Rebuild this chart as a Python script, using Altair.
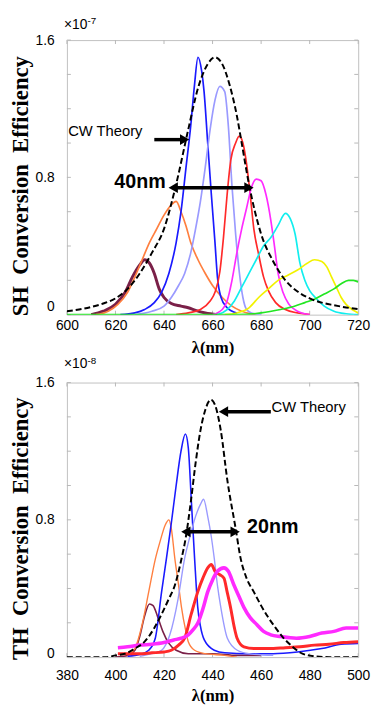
import altair as alt
import pandas as pd

# ---------------- SH panel (efficiency x 1e-7) ----------------
sh_names = ["1 maroon", "2 orange", "3 blue", "4 lightblue", "5 red", "6 magenta", "7 cyan", "8 yellow", "9 green"]
sh_colors = ["#7a2048", "#ff7f3f", "#1a1aff", "#9a9aff", "#ff2a2a", "#ff2aff", "#11eeee", "#f2f200", "#22e622"]
sh_widths = [3.0, 1.7, 1.7, 1.7, 1.7, 1.7, 1.7, 1.7, 1.7]

sh_maroon_wl = [610, 615, 620, 624, 627, 630, 632, 634, 636, 638, 640, 643, 647, 650, 653, 657, 662]
sh_maroon_eff = [0, 0.02, 0.06, 0.13, 0.22, 0.29, 0.32, 0.30, 0.24, 0.15, 0.10, 0.065, 0.05, 0.04, 0.025, 0.01, 0]
sh_orange_wl = [612, 617, 621, 625, 628, 631, 634, 637, 640, 643, 645, 647, 649, 651, 654, 657, 660, 664, 668, 672, 678]
sh_orange_eff = [0, 0.02, 0.06, 0.13, 0.22, 0.32, 0.42, 0.50, 0.58, 0.64, 0.66, 0.60, 0.52, 0.42, 0.32, 0.24, 0.17, 0.10, 0.05, 0.02, 0]
sh_blue_wl = [622, 628, 632, 636, 639, 642, 645, 647, 649, 651, 652.5, 654, 655.5, 656.5, 658, 659.5, 661, 662, 663.5, 666, 670]
sh_blue_eff = [0, 0.01, 0.03, 0.07, 0.13, 0.24, 0.42, 0.6, 0.85, 1.1, 1.33, 1.5, 1.42, 1.3, 1.0, 0.7, 0.42, 0.22, 0.1, 0.04, 0.01]
sh_lblue_wl = [628, 635, 640, 643, 646, 648.5, 651, 653, 655, 657, 659, 661, 663, 665, 666.5, 668, 669.5, 671, 672.5, 674, 676, 680]
sh_lblue_eff = [0, 0.02, 0.05, 0.1, 0.17, 0.24, 0.36, 0.5, 0.66, 0.86, 1.08, 1.25, 1.33, 1.3, 1.1, 0.75, 0.47, 0.25, 0.1, 0.03, 0.01, 0]
sh_red_wl = [645, 650, 655, 659, 661, 663, 664.5, 666, 667.5, 669.5, 671, 672.5, 674, 675.5, 677, 679, 681, 683, 686, 690, 695, 700]
sh_red_eff = [0, 0.01, 0.03, 0.08, 0.13, 0.25, 0.45, 0.7, 0.9, 1.0, 1.04, 1.0, 0.88, 0.7, 0.5, 0.35, 0.22, 0.14, 0.07, 0.03, 0.01, 0]
sh_mag_wl = [660, 664, 666, 668, 670, 672, 674, 676, 678, 680, 682, 684, 685.5, 687, 689, 691.5, 695, 700]
sh_mag_eff = [0, 0.03, 0.08, 0.2, 0.36, 0.5, 0.62, 0.74, 0.79, 0.78, 0.7, 0.55, 0.4, 0.24, 0.13, 0.06, 0.02, 0]
sh_cyan_wl = [662, 666, 669, 672, 675, 678, 681, 684, 687, 690, 692, 694, 696, 698, 700, 703, 706, 710, 715, 720]
sh_cyan_eff = [0, 0.03, 0.08, 0.16, 0.24, 0.32, 0.4, 0.45, 0.52, 0.59, 0.56, 0.47, 0.3, 0.2, 0.14, 0.09, 0.05, 0.02, 0.005, 0]
sh_yellow_wl = [665, 670, 675, 679, 683, 687, 691, 695, 699, 702, 705, 707, 709, 711, 713, 715, 717.5, 720]
sh_yellow_eff = [0, 0.01, 0.04, 0.1, 0.15, 0.2, 0.23, 0.26, 0.3, 0.32, 0.31, 0.28, 0.22, 0.16, 0.1, 0.06, 0.03, 0.01]
sh_green_wl = [600, 640, 670, 680, 688, 694, 698, 702, 706, 710, 713, 716, 718, 720]
sh_green_eff = [0, 0, 0, 0.01, 0.03, 0.05, 0.07, 0.09, 0.12, 0.15, 0.18, 0.2, 0.2, 0.19]

sh_cw_wl = [600, 605, 610, 615, 620, 625, 630, 635, 640, 645, 650, 654, 658, 661, 664, 667, 670, 672, 675,
            680, 685, 690, 695, 700, 705, 710, 715, 720]
sh_cw_eff = [0.02, 0.03, 0.045, 0.065, 0.095, 0.15, 0.24, 0.36, 0.5, 0.76, 1.08, 1.32, 1.46, 1.5, 1.46, 1.34,
             1.16, 1.0, 0.76, 0.47, 0.31, 0.2, 0.135, 0.095, 0.07, 0.055, 0.042, 0.032]

sh_xticks = [600, 620, 640, 660, 680, 700, 720]
sh_yticks = [0, 0.2, 0.4, 0.6, 0.8, 1.0, 1.2, 1.4, 1.6]

# annotations
sh_exp = ["×10", "-7", 1.69]
sh_cw_label = ["CW Theory", 600.5, 1.07]
sh_cw_arrow = [636.0, 648.5, 1.02]          # from, to(head), level
sh_fwhm_label = ["40nm", 619.5, 0.77]
sh_fwhm_arrow = [643.8, 675.0, 0.74]

# ---------------- TH panel (efficiency x 1e-8) ----------------
th_names = ["1 maroon", "2 orange", "3 blue", "4 lightblue", "5 red", "6 magenta"]
th_colors = ["#7a1010", "#ff8a4a", "#1010ff", "#8a8aff", "#ff1010", "#ff10ff"]
th_widths = [1.6, 1.4, 1.6, 1.4, 3.0, 3.6]

th_maroon_wl = [400, 405, 408, 410, 412, 414, 415.5, 417.5, 419.5, 422, 425, 430, 440, 450, 460]
th_maroon_eff = [0, 0.01, 0.04, 0.12, 0.24, 0.31, 0.30, 0.23, 0.15, 0.08, 0.04, 0.02, 0.02, 0.01, 0.01]
th_orange_wl = [405, 408, 411, 413.7, 416.4, 418.5, 420.5, 422, 423, 424.5, 426, 427.2, 429, 430, 432.6, 437, 445, 450]
th_orange_eff = [0.01, 0.05, 0.19, 0.38, 0.57, 0.68, 0.77, 0.8, 0.75, 0.57, 0.42, 0.29, 0.15, 0.09, 0.04, 0.02, 0.01, 0]
th_blue_wl = [405, 410, 413.7, 416.4, 419, 421, 423, 425, 427, 428.8, 430, 431.3, 432.6, 433.9, 435, 436.6, 440.7,
              445, 455, 465, 475, 485, 493, 500]
th_blue_eff = [0.005, 0.015, 0.04, 0.11, 0.38, 0.575, 0.78, 1.0, 1.2, 1.3, 1.22, 0.9, 0.575, 0.29, 0.18, 0.1, 0.04,
               0.025, 0.02, 0.02, 0.03, 0.05, 0.075, 0.08]
th_lblue_wl = [410, 415, 419, 422.4, 425.8, 428.5, 431, 433, 435, 436.3, 438, 439.5, 440.7, 442, 443.4, 446.1, 450.2,
               455, 465]
th_lblue_eff = [0.005, 0.02, 0.04, 0.13, 0.34, 0.575, 0.72, 0.82, 0.89, 0.92, 0.82, 0.7, 0.575, 0.42, 0.29, 0.11,
                0.04, 0.02, 0.01]
th_red_wl = [401, 405, 410, 415, 420, 423, 426, 428.5, 431.2, 433.9, 436, 438, 439.5, 441, 443, 444.7, 446, 447.4,
             449, 450.1, 452.9, 457, 463, 470, 476, 482, 488, 494, 500]
th_red_eff = [0.02, 0.02, 0.02, 0.025, 0.03, 0.04, 0.07, 0.11, 0.25, 0.38, 0.46, 0.52, 0.54, 0.5, 0.48, 0.46, 0.38,
              0.29, 0.17, 0.11, 0.06, 0.05, 0.05, 0.055, 0.06, 0.07, 0.075, 0.085, 0.09]
th_mag_wl = [401, 405, 410, 415, 420, 424, 427, 430, 432, 434, 436, 438, 440, 442, 444.7, 446.5, 448.8, 451, 452.9,
             455.5, 458.2, 461, 464, 468, 474.5, 480, 485, 490, 495, 500]
th_mag_eff = [0.055, 0.06, 0.07, 0.075, 0.085, 0.1, 0.11, 0.13, 0.16, 0.2, 0.28, 0.38, 0.45, 0.5, 0.52, 0.5, 0.42,
              0.35, 0.29, 0.23, 0.19, 0.15, 0.13, 0.12, 0.11, 0.12, 0.14, 0.15, 0.17, 0.17]

th_cw_wl = [380, 390, 396, 400, 404, 408, 412, 416, 419, 422, 424.5, 427, 429, 431, 433, 435, 437, 439.3, 441,
            443.4, 446.1, 449.5, 451.5, 454, 457, 460, 463, 466, 469, 473, 477, 482, 488, 500]
th_cw_eff = [0, 0, 0, 0.01, 0.02, 0.05, 0.09, 0.17, 0.25, 0.34, 0.42, 0.56, 0.7, 0.9, 1.13, 1.32, 1.44, 1.5, 1.47,
             1.32, 1.03, 0.75, 0.58, 0.46, 0.38, 0.3, 0.23, 0.17, 0.115, 0.06, 0.02, 0.005, 0, 0]

th_xticks = [380, 400, 420, 440, 460, 480, 500]
th_yticks = [0, 0.2, 0.4, 0.6, 0.8, 1.0, 1.2, 1.4, 1.6]

th_exp = ["×10", "-8", 1.705]
th_cw_label = ["CW Theory", 464.3, 1.455]
th_cw_arrow = [464.0, 444.5, 1.43]
th_fwhm_label = ["20nm", 454.2, 0.76]
th_fwhm_arrow = [429.0, 449.3, 0.73]

W, H = 296, 279
SANS = "Liberation Sans"
SERIF = "Liberation Serif"


def series_frame(names, widths, wls, effs):
    rows = []
    for n, w, xs, ys in zip(names, widths, wls, effs):
        for a, b in zip(xs, ys):
            rows.append({"series": n, "sw": w, "wl": a, "eff": b})
    return pd.DataFrame(rows)


def panel(names, colors, widths, wls, effs, cw_wl, cw_eff, xdom, xticks, yticks, ytitle, expo_parts,
          cw_label, cw_arrow, fwhm_label, fwhm_arrow, label_pad, xtitle_y, zero_shift):
    xs = alt.Scale(domain=xdom, nice=False, zero=False)
    ys = alt.Scale(domain=[0, 1.6], nice=False)
    xaxis = alt.Axis(values=xticks, format="d", labelFont=SANS, labelFontSize=14, labelColor="black",
                     labelFlush=False, labelOverlap=False, labelPadding=label_pad, ticks=False, tickSize=0,
                     domain=False, grid=False, title="λ(nm)", titleFont=SERIF, titleFontSize=17,
                     titleFontWeight="bold", titleColor="black", titleY=xtitle_y, titleBaseline="middle")
    yaxis = alt.Axis(values=yticks,
                     labelExpr="datum.value == 0 ? '0' : (abs(datum.value - 0.8) < 1e-6 ? '0.8' : "
                               "(abs(datum.value - 1.6) < 1e-6 ? '1.6' : ''))",
                     labelOffset={"condition": {"test": "datum.value == 0", "value": zero_shift}, "value": 0},
                     labelFont=SANS, labelFontSize=14, labelColor="black", labelPadding=13, ticks=False,
                     tickSize=0, domain=False, grid=False, title=ytitle, titleFont=SERIF, titleFontSize=23,
                     titleFontWeight="bold", titleColor="black", titleX=-47, titleY=148,
                     titleAlign="center", titleBaseline="middle", labelOverlap=False)
    X = alt.X("wl:Q", scale=xs, axis=xaxis)
    Y = alt.Y("eff:Q", scale=ys, axis=yaxis)

    df = series_frame(names, widths, wls, effs)
    lines = alt.Chart(df).mark_line(interpolate="monotone", clip=True).encode(
        x=X, y=Y,
        color=alt.Color("series:N", scale=alt.Scale(domain=names, range=colors), legend=None),
        strokeWidth=alt.StrokeWidth("sw:Q", scale=None),
        detail="series:N",
    )
    cw = alt.Chart(pd.DataFrame({"wl": cw_wl, "eff": cw_eff})).mark_line(
        interpolate="monotone", color="black", strokeWidth=2, strokeDash=[6, 3], clip=True
    ).encode(x=X, y=Y)

    # inner frame ticks
    xt = pd.DataFrame({"wl": xticks})
    yt = pd.DataFrame({"eff": yticks})
    tick_c = "#b8b8b8"
    t_top = alt.Chart(xt).mark_rule(color=tick_c).encode(x=X, y=alt.value(0), y2=alt.value(4))
    t_bot = alt.Chart(xt).mark_rule(color=tick_c).encode(x=X, y=alt.value(H - 4), y2=alt.value(H))
    t_left = alt.Chart(yt).mark_rule(color=tick_c).encode(y=Y, x=alt.value(0), x2=alt.value(4))
    t_right = alt.Chart(yt).mark_rule(color=tick_c).encode(y=Y, x=alt.value(W - 4), x2=alt.value(W))

    ex = pd.DataFrame({"wl": [xdom[0]], "eff": [expo_parts[2]], "t": [expo_parts[0]], "s": [expo_parts[1]]})
    expo = alt.Chart(ex).mark_text(align="left", baseline="middle", font=SANS, fontSize=14, color="black",
                                   dx=-3).encode(x=X, y=Y, text="t:N")
    expo_sup = alt.Chart(ex).mark_text(align="left", baseline="middle", font=SANS, fontSize=10, color="black",
                                       dx=21, dy=-4).encode(x=X, y=Y, text="s:N")

    lab = pd.DataFrame({"wl": [cw_label[1]], "eff": [cw_label[2]], "t": [cw_label[0]]})
    cw_text = alt.Chart(lab).mark_text(align="left", baseline="middle", font=SANS, fontSize=15,
                                       color="black").encode(x=X, y=Y, text="t:N")
    flab = pd.DataFrame({"wl": [fwhm_label[1]], "eff": [fwhm_label[2]], "t": [fwhm_label[0]]})
    f_text = alt.Chart(flab).mark_text(align="left", baseline="middle", font=SANS, fontSize=20,
                                       fontWeight="bold", color="black").encode(x=X, y=Y, text="t:N")

    arrows = pd.DataFrame({
        "wl": [min(cw_arrow[0], cw_arrow[1]), fwhm_arrow[0]],
        "wl2": [max(cw_arrow[0], cw_arrow[1]), fwhm_arrow[1]],
        "eff": [cw_arrow[2], fwhm_arrow[2]],
    })
    shafts = alt.Chart(arrows).mark_rule(color="black", strokeWidth=3.5).encode(x=X, x2="wl2:Q", y=Y)

    head_dir = "triangle-right" if cw_arrow[1] > cw_arrow[0] else "triangle-left"
    heads = pd.DataFrame({
        "wl": [cw_arrow[1], fwhm_arrow[0], fwhm_arrow[1]],
        "eff": [cw_arrow[2], fwhm_arrow[2], fwhm_arrow[2]],
        "shape": [head_dir, "triangle-left", "triangle-right"],
        "off": [-5 if head_dir == "triangle-right" else 5, 5, -5],
    })
    heads_m = alt.Chart(heads).mark_point(filled=True, color="black", opacity=1, size=120).encode(
        x=X, y=Y, shape=alt.Shape("shape:N", scale=None), xOffset=alt.XOffset("off:Q", scale=None)
    )

    return alt.layer(t_top, t_bot, t_left, t_right, lines, cw, shafts, heads_m, cw_text, f_text,
                     expo, expo_sup).properties(width=W, height=H)


top = panel(sh_names, sh_colors, sh_widths,
            [sh_maroon_wl, sh_orange_wl, sh_blue_wl, sh_lblue_wl, sh_red_wl, sh_mag_wl, sh_cyan_wl, sh_yellow_wl,
             sh_green_wl],
            [sh_maroon_eff, sh_orange_eff, sh_blue_eff, sh_lblue_eff, sh_red_eff, sh_mag_eff, sh_cyan_eff,
             sh_yellow_eff, sh_green_eff],
            sh_cw_wl, sh_cw_eff, [600, 720], sh_xticks, sh_yticks,
            "SH\u2002Conversion\u2002Efficiency", sh_exp,
            sh_cw_label, sh_cw_arrow, sh_fwhm_label, sh_fwhm_arrow, 4, 33, -8)

bottom = panel(th_names, th_colors, th_widths,
               [th_maroon_wl, th_orange_wl, th_blue_wl, th_lblue_wl, th_red_wl, th_mag_wl],
               [th_maroon_eff, th_orange_eff, th_blue_eff, th_lblue_eff, th_red_eff, th_mag_eff],
               th_cw_wl, th_cw_eff, [380, 500], th_xticks, th_yticks,
               "TH\u2002Conversion\u2002Efficiency", th_exp,
               th_cw_label, th_cw_arrow, th_fwhm_label, th_fwhm_arrow, 12, 39, -4)

chart = alt.vconcat(top, bottom, spacing=69, bounds="flush").properties(
    padding={"left": 9, "top": 9, "right": 0, "bottom": 0}, background="white"
).configure_view(stroke="#c0c0c0", strokeWidth=1)

chart.save("out.html", embed_options={"renderer": "svg", "actions": False})
